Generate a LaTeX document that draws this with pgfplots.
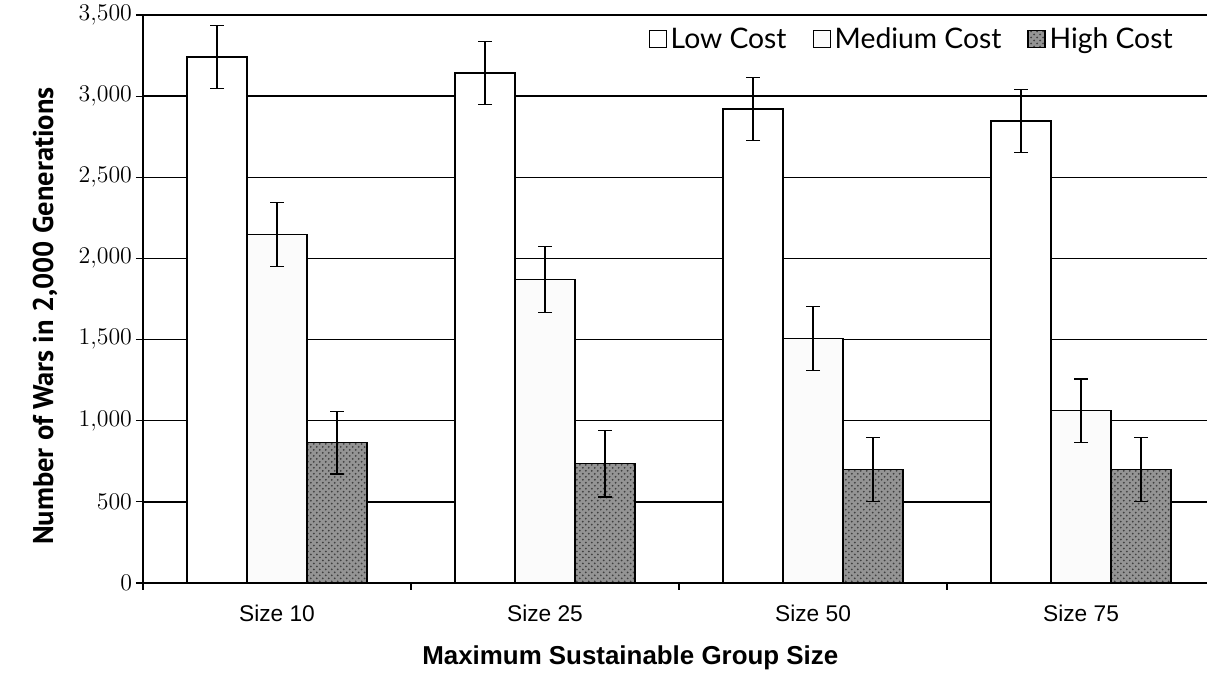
\documentclass[border=0pt]{standalone}
\usepackage{fontspec}
\usepackage{pgfplots}
\pgfplotsset{compat=1.18}
\usetikzlibrary{patterns}
\newfontfamily\arialf{Liberation Sans}
\newfontfamily\legf{Lato}
\newfontfamily\ylabf{PT Sans}
\begin{document}
\begin{tikzpicture}
\path[use as bounding box] (-71.5bp,-51.5bp) rectangle (532bp,291.5bp);
\begin{axis}[
  scale only axis,
  width=532bp, height=284bp,
  xmin=-0.5, xmax=3.47,
  ymin=0, ymax=3500,
  ytick={0,500,...,3500},
  ymajorgrids,
  major grid style={black, line width=0.7bp},
  axis x line*=bottom,
  axis y line*=left,
  axis line style={black, line width=0.7bp},
  xtick={0,1,2,3},
  xticklabels={Size 10,Size 25,Size 50,Size 75},
  minor xtick={-0.5,0.5,1.5,2.5},
  tick align=outside,
  major x tick style={draw=none},
  minor tick length=3.5bp,
  major tick length=3.5bp,
  tick style={black, line width=0.6bp},
  xticklabel style={font=\arialf\fontsize{11.4}{13}\selectfont, yshift=-4bp},
  yticklabel style={font=\fontsize{12.3}{14}\selectfont, xshift=1.5bp},
  scaled y ticks=false,
  /pgf/number format/1000 sep={\mathord{,}},
  ylabel={\ylabf\bfseries\fontsize{14.3}{16}\selectfont Number of Wars in 2,000 Generations},
  ylabel style={at={(axis description cs:-0.0921,0.47)}, anchor=center},
  xlabel={\arialf\bfseries\fontsize{13}{15}\selectfont Maximum Sustainable Group Size},
  xlabel style={at={(axis description cs:0.458,-0.132)}, anchor=center},
  ybar=0pt,
  bar width=30bp,
  legend style={at={(axis description cs:1,1)}, anchor=north east, xshift=-12bp, yshift=-2bp,
    draw=none, fill=none, font=\legf\fontsize{14.2}{16}\selectfont,
    /tikz/every even column/.append style={column sep=11bp}},
  legend columns=-1,
  legend image code/.code={\draw[#1, line width=0.6bp] (0bp,-4.2bp) rectangle (8.5bp,4.5bp);},
  error bars/y dir=both,
  error bars/y explicit,
  error bars/error mark options={rotate=90, mark size=3.5bp, line width=0.6bp, black},
  error bars/error bar style={line width=0.6bp, black},
]
\addplot[draw=black, line width=0.7bp, fill=white] coordinates {
  (0,3241) +- (0,195)
  (1,3143) +- (0,195)
  (2,2920) +- (0,195)
  (3,2846) +- (0,195)
};
\addlegendentry{Low Cost}
\addplot[draw=black, line width=0.7bp, fill=black!1.5] coordinates {
  (0,2148) +- (0,198)
  (1,1870) +- (0,205)
  (2,1505) +- (0,198)
  (3,1062) +- (0,195)
};
\addlegendentry{Medium Cost}
\addplot[draw=black, line width=0.7bp, fill=black!42, postaction={pattern=crosshatch dots, pattern color=black!75}] coordinates {
  (0,864) +- (0,192)
  (1,735) +- (0,205)
  (2,700) +- (0,198)
  (3,698) +- (0,197)
};
\addlegendentry{High Cost}
\end{axis}
\end{tikzpicture}
\end{document}
